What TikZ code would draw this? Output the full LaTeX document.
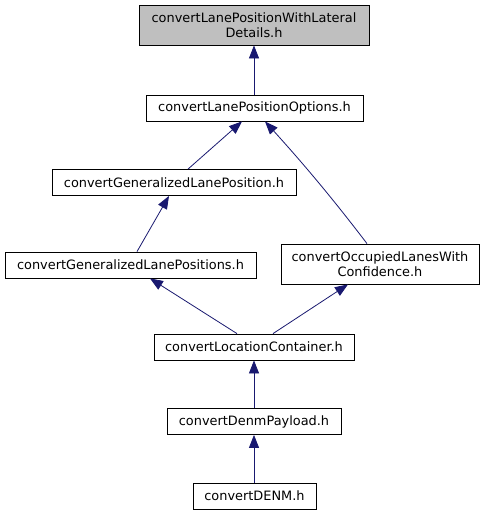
\documentclass[tikz,border=0pt]{standalone}
\usepackage{fontspec}
\setmainfont{DejaVu Sans}
\usetikzlibrary{arrows.meta}
\definecolor{edgeblue}{HTML}{191970}
\definecolor{rootgray}{HTML}{BFBFBF}
\tikzset{
  hfile/.style={draw=black, line width=0.8pt, inner sep=0pt, minimum height=26pt, align=center, fill=white},
  incl/.style={<-, edgeblue, line width=0.8pt},
}

\begin{document}
\begin{tikzpicture}[x=1pt, y=-1pt, font=\fontsize{12.9}{15.5}\selectfont, >={Triangle[length=13pt,width=10pt]}]
  \useasboundingbox[fill=white] (0,0) rectangle (485,515);

  % Hlavičkové soubory
  \node[hfile, fill=rootgray, minimum width=230pt, minimum height=40pt] (lateral) at (254,25) {convertLanePositionWithLateral\\Details.h};
  \node[hfile, minimum width=217pt] (options) at (254.5,108) {convertLanePositionOptions.h};
  \node[hfile, minimum width=244pt] (genpos) at (174,182.5) {convertGeneralizedLanePosition.h};
  \node[hfile, minimum width=251pt] (genposs) at (130.5,265) {convertGeneralizedLanePositions.h};
  \node[hfile, minimum width=198pt, minimum height=40pt] (occupied) at (380,264) {convertOccupiedLanesWith\\Confidence.h};
  \node[hfile, minimum width=200pt] (location) at (254,347) {convertLocationContainer.h};
  \node[hfile, minimum width=174pt] (payload) at (254,421.5) {convertDenmPayload.h};
  \node[hfile, minimum width=123pt] (denm) at (254.5,496) {convertDENM.h};

  % Vazby include
  \draw[incl] (lateral.south) -- (options.north -| lateral.south);
  \draw[incl] ([xshift=-12.5pt]options.south) -- ([xshift=14pt]genpos.north);
  \draw[incl] ([xshift=10.5pt]options.south) .. controls (300,160) and (330,195) .. ([xshift=-13pt]occupied.north);
  \draw[incl] ([xshift=-5pt]genpos.south) -- ([xshift=6.5pt]genposs.north);
  \draw[incl] ([xshift=19.5pt]genposs.south) -- ([xshift=-17pt]location.north);
  \draw[incl] ([xshift=-32pt]occupied.south) -- ([xshift=19pt]location.north);
  \draw[incl] (location.south) -- (payload.north);
  \draw[incl] (payload.south) -- (denm.north -| payload.south);
\end{tikzpicture}
\end{document}
